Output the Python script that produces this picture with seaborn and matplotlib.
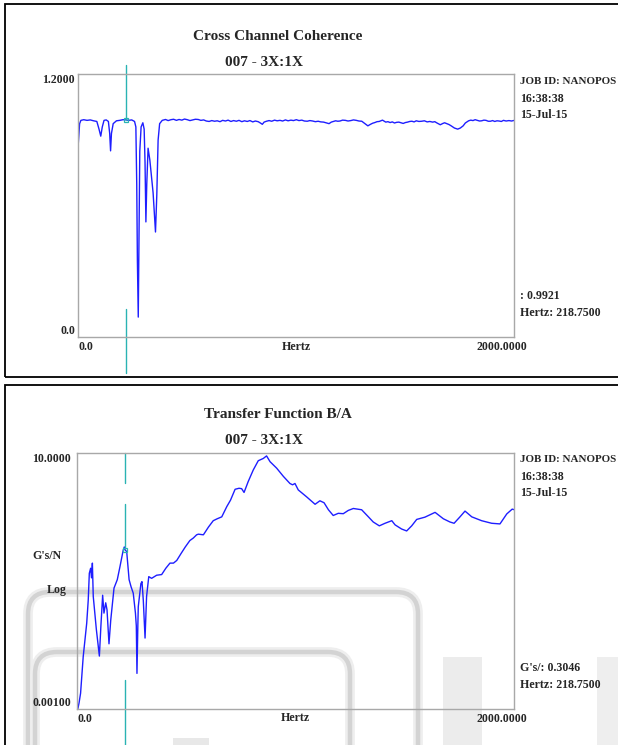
import numpy as np
import pandas as pd
import seaborn as sns
import matplotlib.pyplot as plt
from matplotlib.patches import Rectangle, FancyBboxPatch
from matplotlib.ticker import NullLocator
from matplotlib.transforms import IdentityTransform, blended_transform_factory, ScaledTranslation

# --- data ---
coh_hz = [0, 6, 12, 25, 40, 55, 70, 85, 95, 103, 110, 118, 128, 138, 144, 148, 152, 160, 175,
          190, 205, 218.75, 230, 245, 258, 264, 268, 271, 275, 278, 282, 288, 296, 302, 306, 310,
          314, 320, 328, 343, 354, 360, 366, 373, 385, 400, 412, 425, 437, 450, 462, 475, 487,
          500, 512, 525, 537, 550, 562, 575, 587, 600, 612, 625, 637, 650, 662, 675, 687, 700,
          712, 725, 737, 750, 762, 775, 787, 800, 812, 825, 835, 844, 852, 863, 875, 887, 900,
          912, 925, 937, 950, 962, 975, 987, 1000, 1012, 1025, 1037, 1050, 1062, 1075, 1087,
          1100, 1112, 1125, 1140, 1150, 1160, 1170, 1180, 1190, 1200, 1212, 1225, 1237, 1250,
          1262, 1275, 1287, 1300, 1315, 1328, 1340, 1350, 1360, 1370, 1380, 1395, 1410, 1420,
          1430, 1440, 1450, 1460, 1470, 1480, 1490, 1500, 1510, 1520, 1530, 1540, 1550, 1562,
          1575, 1587, 1600, 1612, 1625, 1635, 1645, 1660, 1672, 1680, 1690, 1700, 1710, 1725,
          1740, 1752, 1765, 1775, 1790, 1800, 1810, 1820, 1830, 1840, 1850, 1860, 1870, 1880,
          1890, 1900, 1910, 1920, 1930, 1940, 1950, 1962, 1975, 1987, 2000]
coh_val = [0.885, 0.975, 0.99, 0.993, 0.99, 0.992, 0.988, 0.985, 0.95, 0.918, 0.96, 0.99, 0.992,
           0.985, 0.93, 0.851, 0.93, 0.975, 0.988, 0.99, 0.993, 0.9921, 0.99, 0.992, 0.985, 0.96,
           0.70, 0.35, 0.093, 0.40, 0.85, 0.96, 0.979, 0.95, 0.80, 0.527, 0.70, 0.863, 0.81,
           0.66, 0.481, 0.65, 0.90, 0.975, 0.99, 0.994, 0.989, 0.993, 0.995, 0.99, 0.994, 0.991,
           0.996, 0.993, 0.989, 0.992, 0.995, 0.994, 0.99, 0.992, 0.987, 0.985, 0.989, 0.986,
           0.988, 0.984, 0.99, 0.987, 0.991, 0.985, 0.989, 0.986, 0.99, 0.984, 0.988, 0.985,
           0.989, 0.983, 0.987, 0.984, 0.978, 0.972, 0.982, 0.986, 0.989, 0.986, 0.991, 0.988,
           0.99, 0.987, 0.992, 0.988, 0.991, 0.989, 0.993, 0.989, 0.991, 0.987, 0.986, 0.989,
           0.987, 0.984, 0.986, 0.983, 0.982, 0.978, 0.975, 0.982, 0.985, 0.988, 0.986, 0.987,
           0.991, 0.99, 0.987, 0.989, 0.992, 0.99, 0.987, 0.986, 0.975, 0.965, 0.972, 0.977,
           0.98, 0.984, 0.985, 0.991, 0.982, 0.984, 0.98, 0.983, 0.978, 0.981, 0.982, 0.979,
           0.976, 0.98, 0.982, 0.985, 0.986, 0.983, 0.988, 0.985, 0.986, 0.988, 0.983, 0.985,
           0.982, 0.984, 0.978, 0.97, 0.976, 0.979, 0.975, 0.971, 0.965, 0.955, 0.95, 0.955,
           0.965, 0.978, 0.988, 0.991, 0.989, 0.993, 0.99, 0.987, 0.988, 0.991, 0.99, 0.986,
           0.986, 0.989, 0.985, 0.988, 0.987, 0.985, 0.99, 0.987, 0.989, 0.987, 0.99]

tf_hz = [0, 8, 15, 27, 43, 50, 55, 61, 65, 69, 73, 87, 101, 108, 116, 122, 130, 136, 145, 153,
         168, 183, 195, 210, 215, 218.75, 226, 237, 246, 256, 266, 270, 273, 277, 279, 291, 296,
         302, 310, 317, 327, 340, 363, 386, 405, 424, 440, 455, 475, 494, 515, 531, 546, 554,
         577, 600, 622, 640, 661, 684, 701, 722, 740, 752, 763, 782, 805, 828, 851, 866, 882,
         912, 943, 973, 985, 996, 1011, 1050, 1088, 1110, 1129, 1149, 1171, 1194, 1217, 1240,
         1263, 1301, 1332, 1354, 1382, 1408, 1439, 1454, 1484, 1507, 1530, 1553, 1591, 1637,
         1675, 1705, 1724, 1751, 1774, 1805, 1850, 1896, 1934, 1965, 1990, 2000]
tf_val = [0.00092, 0.00126, 0.00178, 0.0066, 0.0219, 0.050, 0.132, 0.158, 0.112, 0.19, 0.0575,
          0.0178, 0.00676, 0.02, 0.060, 0.0316, 0.0457, 0.0355, 0.0105, 0.0245, 0.0776, 0.105,
          0.166, 0.302, 0.339, 0.3046, 0.288, 0.105, 0.0813, 0.0646, 0.0316, 0.02, 0.00363,
          0.02, 0.0398, 0.0912, 0.0977, 0.050, 0.0129, 0.0575, 0.117, 0.110, 0.123, 0.126,
          0.158, 0.19, 0.19, 0.209, 0.269, 0.339, 0.427, 0.468, 0.525, 0.537, 0.525, 0.692,
          0.871, 0.933, 1.0, 1.445, 1.82, 2.69, 2.79, 2.75, 2.40, 3.55, 5.37, 7.5, 8.13, 8.91,
          7.24, 5.75, 4.27, 3.31, 3.16, 3.31, 2.63, 2.04, 1.57, 1.78, 1.66, 1.29, 1.05, 1.135,
          1.12, 1.26, 1.35, 1.29, 1.0, 0.832, 0.724, 0.794, 0.871, 0.75, 0.646, 0.603, 0.724,
          0.912, 0.99, 1.175, 0.933, 0.832, 0.794, 1.0, 1.23, 1.0, 0.871, 0.794, 0.776, 1.11,
          1.32, 1.29]

cursor_hz = 218.75
cursor_coh = 0.9921
cursor_tf = 0.3046
header_lines = ["JOB ID: NANOPOS", "16:38:38", "15-Jul-15"]

coh = pd.DataFrame({"Hertz": coh_hz, "value": coh_val})
tf = pd.DataFrame({"Hertz": tf_hz, "value": tf_val})

W, H = 618, 745
sns.set_theme(style="white")
plt.rcParams['font.family'] = ['Liberation Serif', 'DejaVu Serif']
plt.rcParams['font.weight'] = 'bold'

LINE = '#1e1eff'
CYAN = '#2ab3b3'
SPINE = '#a8a8a8'

fig = plt.figure(figsize=(W / 100, H / 100), dpi=100, facecolor='white')


def fx(x):
    return x / W


def fy(y):
    return 1 - y / H


def ftext(x, y, s, size=8.6, **kw):
    fig.text(fx(x), fy(y), s, fontsize=size, fontweight='bold', va='center', **kw)


# faint watermark left over from the screen grab (bottom panel)
idt = IdentityTransform()
for x0, top, right in [(28, 592, 418), (35, 652, 350)]:
    for lw, col in [(7, '#eeeeee'), (3.2, '#d3d3d3')]:
        fig.add_artist(FancyBboxPatch((x0, -60), right - x0, (H - top) + 60,
                                      boxstyle='round,pad=0,rounding_size=22', transform=idt,
                                      fc='none', ec=col, lw=lw, zorder=-2))
for x0, x1, top, col in [(443, 482, 657, '#ececec'), (597, 618, 657, '#eeeeee'), (173, 209, 738, '#e8e8e8')]:
    fig.add_artist(Rectangle((x0, 0), x1 - x0, H - top, transform=idt, fc=col, ec='none', zorder=-2))

# panel frames
fig.add_artist(Rectangle((fx(4.5), fy(377)), 1.2, fy(4) - fy(377), transform=fig.transFigure,
                         fc='none', ec='black', lw=1.3, zorder=-1))
fig.add_artist(Rectangle((fx(4.5), -0.1), 1.2, fy(384.5) + 0.1, transform=fig.transFigure,
                         fc='none', ec='black', lw=1.3, zorder=-1))

ax1 = fig.add_axes([fx(78.3), fy(337.5), fx(514.4 - 78.3), (337.5 - 74.3) / H])
ax2 = fig.add_axes([fx(77.3), fy(709.3), fx(514.4 - 77.3), (709.3 - 452.7) / H])

sns.lineplot(data=coh, x="Hertz", y="value", ax=ax1, color=LINE, linewidth=1.0)
sns.lineplot(data=tf, x="Hertz", y="value", ax=ax2, color=LINE, linewidth=1.0)
ax2.set_yscale('log')

ax1.set_ylim(0, 1.2)
ax2.set_ylim(0.001, 10)
ax1.set_yticks([0, 1.2], ['0.0', '1.2000'])
ax2.set_yticks([0.001, 10], ['0.00100', '10.0000'])
ax2.yaxis.set_minor_locator(NullLocator())

for ax, ypad, segs, yval in [(ax1, 2.4, [(1.035, 0.826), (0.110, -0.133)], cursor_coh),
                             (ax2, 4.5, [(1.0, 0.883), (0.801, 0.633), (0.114, -0.14)], cursor_tf)]:
    ax.set_facecolor('none')
    ax.set_xlim(0, 2000)
    ax.set_xticks([0, 2000], ['0.0', '2000.0000'])
    ax.tick_params(axis='x', length=0, pad=2.5, labelsize=8.6)
    ax.tick_params(axis='y', length=0, pad=ypad, labelsize=8.6)
    xl = ax.get_xticklabels()
    xl[0].set_ha('left')
    xl[1].set_transform(xl[1].get_transform() + ScaledTranslation(-0.13, 0, fig.dpi_scale_trans))
    yl = ax.get_yticklabels()
    yl[0].set_va('bottom')
    yl[1].set_va('top')
    for lab in xl + yl:
        lab.set_fontweight('bold')
    ax.set_xlabel('Hertz', fontsize=8.6, fontweight='bold')
    ax.xaxis.set_label_coords(0.5, -0.012)
    ax.set_ylabel('')
    for sp in ax.spines.values():
        sp.set_color(SPINE)
        sp.set_linewidth(1.0)
    trans = blended_transform_factory(ax.transData, ax.transAxes)
    for y0, y1 in segs:
        ax.plot([cursor_hz, cursor_hz], [y0, y1], transform=trans, color=CYAN, lw=1.0, clip_on=False)
    ax.plot([cursor_hz], [yval], marker='s', ms=3.5, mfc='none', mec=CYAN, mew=0.9, ls='none')

# titles
ftext(278, 37, "Cross Channel Coherence", size=11, ha='center')
ftext(264, 62, "007 - 3X:1X", size=11, ha='center')
ftext(278, 415, "Transfer Function B/A", size=11, ha='center')
ftext(264, 441, "007 - 3X:1X", size=11, ha='center')

# header and cursor readouts
for top in (82, 460):
    for i, s in enumerate(header_lines):
        ftext(520, top + i * 16.5, s, size=7.9 if i == 0 else 8.6, ha='left')
ftext(520, 296, ": %.4f" % cursor_coh, ha='left')
ftext(520, 313, "Hertz: %.4f" % cursor_hz, ha='left')
ftext(520, 668, "G's/: %.4f" % cursor_tf, ha='left')
ftext(520, 685, "Hertz: %.4f" % cursor_hz, ha='left')

# y-axis caption of the lower plot
ftext(32, 556, "G's/N", ha='left')
ftext(67, 590, "Log", ha='right')

fig.savefig('out.png', dpi=100)
